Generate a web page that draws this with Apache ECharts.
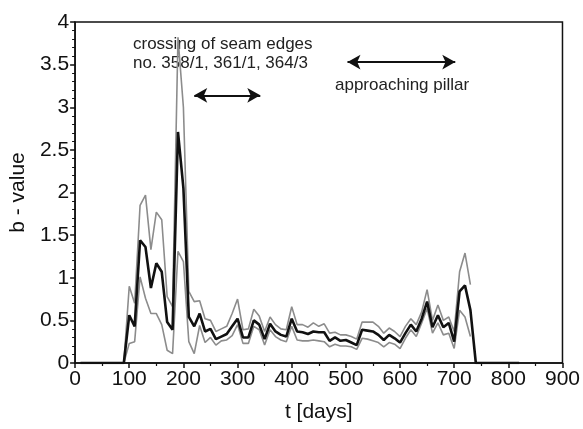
<!DOCTYPE html>
<html>
<head>
<meta charset="utf-8">
<script src="https://cdn.jsdelivr.net/npm/echarts@6/dist/echarts.min.js"></script>
<style>
  html, body { margin: 0; padding: 0; background: #fff; }
  #chart { width: 583px; height: 429px; }
</style>
</head>
<body>
<div id="chart"></div>
<script>
// sample days shared by the three curves
const days = [
  90, 100, 110, 120, 130, 140, 150, 160, 170, 180,
  190, 200, 210, 220, 230, 240, 250, 260, 270, 280,
  290, 300, 310, 320, 330, 340, 350, 360, 370, 380,
  390, 400, 410, 420, 430, 440, 450, 460, 470, 480,
  490, 500, 510, 520, 530, 540, 550, 560, 570, 580,
  590, 600, 610, 620, 630, 640, 650, 660, 670, 680,
  690, 700, 710, 720, 730
];
// b-value (black) and its two bounds (grey)
const bMean = [
  0, 0.56, 0.43, 1.44, 1.36, 0.88, 1.17, 1.07, 0.48, 0.39,
  2.71, 2.05, 0.54, 0.43, 0.58, 0.37, 0.40, 0.28, 0.31, 0.34,
  0.43, 0.52, 0.30, 0.30, 0.50, 0.45, 0.28, 0.46, 0.37, 0.33,
  0.31, 0.52, 0.37, 0.36, 0.34, 0.37, 0.36, 0.36, 0.26, 0.30,
  0.26, 0.27, 0.24, 0.21, 0.39, 0.38, 0.37, 0.33, 0.27, 0.33,
  0.29, 0.24, 0.35, 0.45, 0.37, 0.52, 0.72, 0.42, 0.56, 0.42,
  0.47, 0.25, 0.84, 0.91, 0.62
];
const bUpper = [
  0, 0.90, 0.70, 1.85, 1.97, 1.33, 1.77, 1.68, 0.78, 0.66,
  3.82, 3.00, 0.84, 0.72, 0.73, 0.52, 0.50, 0.37, 0.40, 0.43,
  0.58, 0.75, 0.39, 0.40, 0.63, 0.55, 0.37, 0.54, 0.45, 0.40,
  0.39, 0.66, 0.45, 0.45, 0.42, 0.47, 0.43, 0.46, 0.35, 0.36,
  0.33, 0.33, 0.31, 0.28, 0.48, 0.48, 0.48, 0.43, 0.35, 0.41,
  0.37, 0.31, 0.43, 0.52, 0.45, 0.60, 0.86, 0.50, 0.68, 0.50,
  0.54, 0.37, 1.07, 1.29, 0.92
];
const bLower = [
  0, 0.23, 0.25, 1.01, 0.76, 0.58, 0.58, 0.45, 0.15, 0.11,
  1.31, 1.19, 0.25, 0.11, 0.44, 0.24, 0.30, 0.21, 0.26, 0.27,
  0.32, 0.45, 0.23, 0.23, 0.43, 0.39, 0.21, 0.39, 0.31, 0.27,
  0.25, 0.43, 0.27, 0.26, 0.26, 0.27, 0.26, 0.25, 0.19, 0.22,
  0.20, 0.20, 0.19, 0.16, 0.29, 0.28, 0.26, 0.24, 0.19, 0.24,
  0.22, 0.17, 0.29, 0.39, 0.31, 0.47, 0.64, 0.35, 0.47, 0.33,
  0.35, 0.17, 0.62, 0.54, 0.31
];
// flat zero parts of the black curve before and after the record
const meanLead = [[10, 0]];
const meanTail = [[740, 0], [820, 0]];

// annotation arrows, in data units (day from, day to, b-value)
const arrowSeam = [220, 342, 3.14];
const arrowPillar = [503, 702, 3.53];

const xTicks = { min: 0, max: 900, interval: 100 };
const yTicks = { min: 0, max: 4, interval: 0.5 };

const pair = (vals) => days.map((d, i) => [d, vals[i]]);

var chartDom = document.getElementById('chart');
var myChart = echarts.init(chartDom);

const font = 'Liberation Sans, Arial, sans-serif';
const greyLine = { color: '#8c8c8c', width: 1.6 };

var option = {
  animation: false,
  backgroundColor: '#fff',
  grid: {
    left: 73, right: 19, top: 22, bottom: 66,
    show: true, borderColor: '#111', borderWidth: 1.5
  },
  xAxis: {
    type: 'value',
    min: xTicks.min, max: xTicks.max, interval: xTicks.interval,
    name: 't [days]',
    nameLocation: 'middle',
    nameGap: 39,
    nameTextStyle: { fontFamily: font, fontSize: 21, color: '#111' },
    axisLine: { lineStyle: { color: '#111', width: 1.5 } },
    axisTick: { length: 5, lineStyle: { color: '#111', width: 1.5 } },
    minorTick: { show: true, splitNumber: 2, length: 3, lineStyle: { color: '#111', width: 1.2 } },
    axisLabel: { fontFamily: font, fontSize: 21, color: '#111', margin: 6 },
    splitLine: { show: false }
  },
  yAxis: {
    type: 'value',
    min: yTicks.min, max: yTicks.max, interval: yTicks.interval,
    name: 'b - value',
    nameLocation: 'middle',
    nameGap: 46,
    nameTextStyle: { fontFamily: font, fontSize: 21, color: '#111' },
    axisLine: { show: true, lineStyle: { color: '#111', width: 1.5 } },
    axisTick: { show: true, length: 5, lineStyle: { color: '#111', width: 1.5 } },
    minorTick: { show: true, splitNumber: 5, length: 3, lineStyle: { color: '#111', width: 1 } },
    axisLabel: { fontFamily: font, fontSize: 21, color: '#111', margin: 6 },
    splitLine: { show: false }
  },
  graphic: [
    {
      type: 'text', left: 133, top: 35,
      style: {
        text: 'crossing of seam edges\nno. 358/1, 361/1, 364/3',
        font: '17px ' + font, fill: '#222', lineHeight: 19
      }
    },
    {
      type: 'text', left: 335, top: 77,
      style: { text: 'approaching pillar', font: '17px ' + font, fill: '#222' }
    }
  ],
  series: [
    {
      name: 'upper', type: 'line', data: pair(bUpper),
      symbol: 'none', lineStyle: greyLine, z: 2
    },
    {
      name: 'lower', type: 'line', data: pair(bLower),
      symbol: 'none', lineStyle: greyLine, z: 2
    },
    {
      name: 'b-value', type: 'line',
      data: meanLead.concat(pair(bMean), meanTail),
      symbol: 'none', lineStyle: { color: '#111', width: 2.6 }, z: 3,
      markLine: {
        silent: true,
        symbol: ['arrow', 'arrow'],
        symbolSize: [11, 13],
        label: { show: false },
        lineStyle: { color: '#111', width: 2, type: 'solid' },
        data: [
          [{ coord: [arrowSeam[0], arrowSeam[2]] }, { coord: [arrowSeam[1], arrowSeam[2]] }],
          [{ coord: [arrowPillar[0], arrowPillar[2]] }, { coord: [arrowPillar[1], arrowPillar[2]] }]
        ]
      }
    }
  ]
};

myChart.setOption(option);
</script>
</body>
</html>
